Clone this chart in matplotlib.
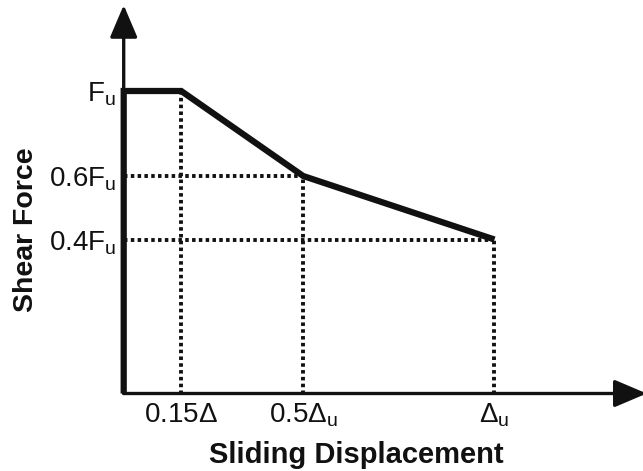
import matplotlib
matplotlib.use("Agg")
import matplotlib.pyplot as plt

plt.rcParams['font.family'] = ['Liberation Sans', 'DejaVu Sans']
plt.rcParams['mathtext.fontset'] = 'custom'
plt.rcParams['mathtext.rm'] = 'Liberation Sans'
plt.rcParams['mathtext.it'] = 'Liberation Sans:italic'
plt.rcParams['mathtext.bf'] = 'Liberation Sans:bold'

# Backbone curve (x in units of Δu, y in units of Fu, as drawn)
curve_x = [0.0, 0.0, 0.155, 0.484, 1.0]
curve_y = [0.0, 1.0, 1.0, 0.719, 0.509]

# Guide points (dotted projections)
guide_x = [0.155, 0.484, 1.0]
guide_y = [1.0, 0.719, 0.509]

xtick_vals = [0.155, 0.484, 1.0]
xtick_labels = [r'$\mathrm{0.15Δ}$', r'$\mathrm{0.5Δ_u}$', r'$\mathrm{Δ_u}$']
ytick_vals = [1.0, 0.719, 0.509]
ytick_labels = [r'$\mathrm{F_u}$', r'$\mathrm{0.6F_u}$', r'$\mathrm{0.4F_u}$']

x_max = 1.4005
y_max = 1.3008

fig = plt.figure(figsize=(6.43, 4.71), dpi=100)
ax = fig.add_axes([0.19238, 0.16454, 0.80762, 0.83546])
ax.set_xlim(0, x_max)
ax.set_ylim(0, y_max)
for s in ax.spines.values():
    s.set_visible(False)

# axes arrows
arrow_kw = dict(arrowstyle='-|>,head_length=0.4,head_width=0.17', lw=2.4,
                color='#111111', mutation_scale=50, shrinkA=0, shrinkB=0)
ax.annotate('', xy=(0, 1.284), xytext=(0, 0), arrowprops=arrow_kw,
            annotation_clip=False)
ax.annotate('', xy=(x_max + 0.01, 0), xytext=(0, 0), arrowprops=arrow_kw,
            annotation_clip=False)

# dotted guides
dot_kw = dict(color='#111111', lw=2.8, linestyle=(0, (0.9, 0.85)),
              dash_capstyle='butt', clip_on=False)
for gx, gy in zip(guide_x, guide_y):
    ax.plot([gx, gx], [0, gy], **dot_kw)
for gx, gy in zip(guide_x[1:], guide_y[1:]):
    ax.plot([0, gx], [gy, gy], **dot_kw)

# backbone
ax.plot(curve_x, curve_y, color='#111111', lw=4.5, solid_joinstyle='miter',
        solid_capstyle='butt', clip_on=False, zorder=5)

ax.set_xticks(xtick_vals)
ax.set_xticklabels(xtick_labels, fontsize=20)
ax.set_yticks(ytick_vals)
ax.set_yticklabels(ytick_labels, fontsize=20)
ax.tick_params(axis='x', length=0, pad=6, colors='#111111')
ax.tick_params(axis='y', length=0, pad=5.5, colors='#111111')

ax.set_xlabel('Sliding Displacement', fontsize=21, fontweight='bold', color='#111111')
ax.xaxis.set_label_coords(0.4473, -0.121)
ax.set_ylabel('Shear Force', fontsize=20.5, fontweight='bold', color='#111111')
ax.yaxis.set_label_coords(-0.163, 0.4155)

fig.savefig('out.png', dpi=100)
